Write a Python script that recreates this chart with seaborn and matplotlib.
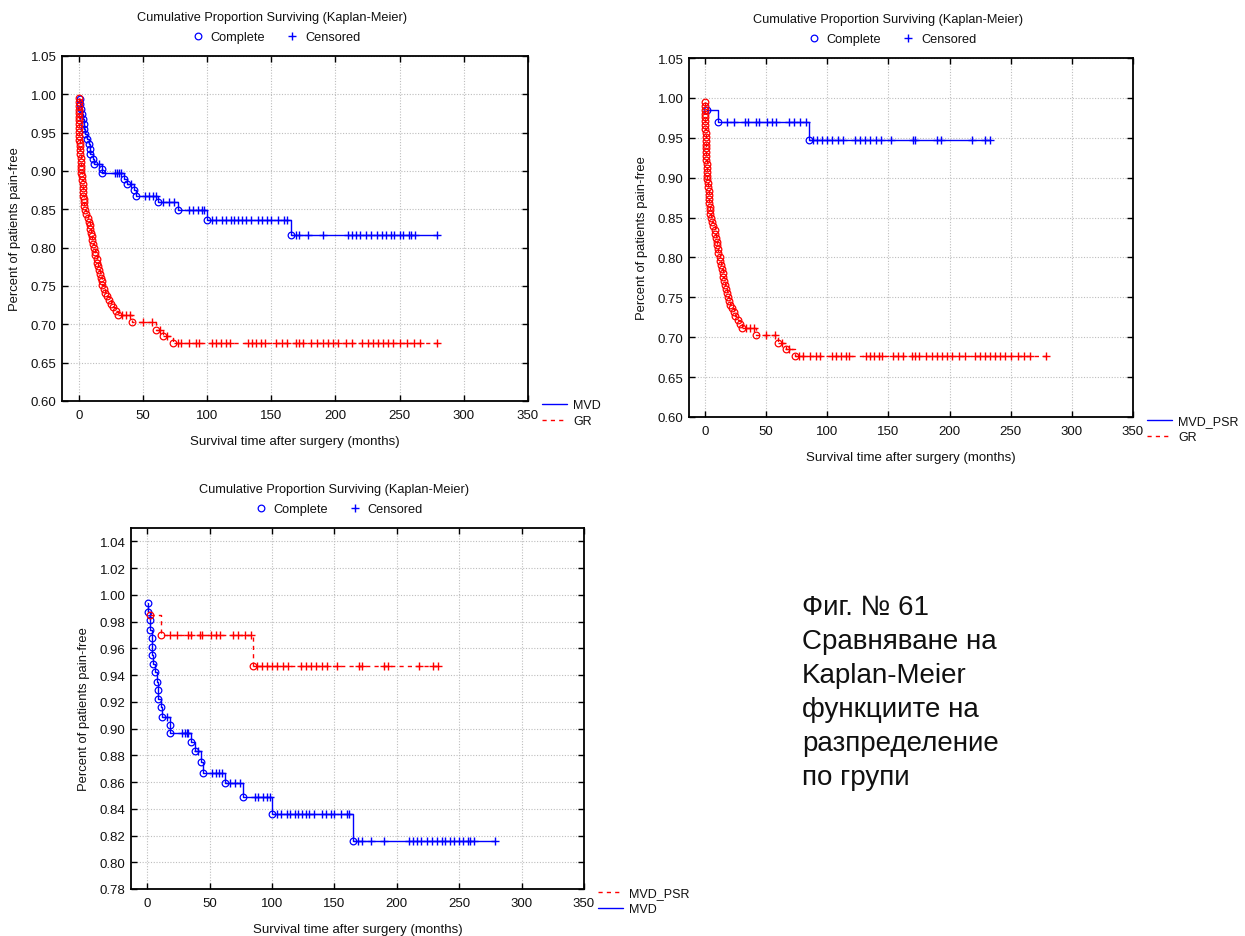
import matplotlib
matplotlib.use("Agg")
import matplotlib.pyplot as plt
from matplotlib.lines import Line2D
from matplotlib.ticker import FormatStrFormatter
import pandas as pd
import seaborn as sns

sns.set_style("white")
plt.rcParams['font.family'] = ['Liberation Sans', 'DejaVu Sans']

# ---------------- data ----------------
# MVD group: event (complete) times with survival after each event, and censored times
mvd_event_t = [1, 1, 2, 2.5, 3.5, 4, 4, 5, 6.5, 8, 8.5, 9, 11, 12, 18, 18,
               35, 38, 43, 45, 62, 77, 100, 165]
mvd_event_s = [0.994, 0.987, 0.981, 0.974, 0.968, 0.961, 0.955, 0.948, 0.942,
               0.935, 0.929, 0.922, 0.916, 0.909, 0.903, 0.897, 0.890, 0.883,
               0.875, 0.867, 0.859, 0.849, 0.836, 0.816]
mvd_cens_t = [16, 28, 30, 31.5, 33, 41, 52, 55, 57.5, 60, 66, 70, 74, 86, 89,
              93, 96, 98, 104, 107, 112, 114.5, 118.5, 121, 124, 127, 130, 134,
              140, 143, 147, 150, 155, 160, 162, 169, 172, 179, 190, 210, 213,
              216, 219, 224, 228, 232, 236, 239, 243, 246, 250, 253, 257, 259,
              262, 279]

# MVD_PSR group
psr_event_t = [2, 11, 85]
psr_event_s = [0.985, 0.970, 0.947]
psr_cens_t = [18, 24, 33, 35, 42, 44, 51, 55, 58, 69, 73, 78, 83, 88, 92, 96,
              100, 104, 109, 113, 123, 127, 131, 135, 140, 144, 152, 170, 172,
              190, 193, 218, 229, 233]

# GR group
gr_event_t = [0, 0, 0, 0, 0, 0, 0, 0, 0.5, 0.5, 0.5, 0.5, 1, 1, 1, 1, 1.5, 1.5,
              2, 2, 2, 2.5, 2.5, 3, 3, 3.5, 3.5, 4, 4, 4.5, 5, 6, 7, 8, 8.5, 9,
              9.5, 10, 10.5, 11, 12, 12.5, 13, 14, 14.5, 15, 16, 16.5, 17, 18,
              18.5, 19.5, 20.5, 22, 24, 25, 27, 29, 30.5, 41.5, 60, 66, 73.5]
gr_event_s = [0.995, 0.990, 0.985, 0.980, 0.976, 0.971, 0.966, 0.961, 0.956,
              0.951, 0.946, 0.941, 0.937, 0.932, 0.927, 0.922, 0.917, 0.912,
              0.907, 0.902, 0.898, 0.893, 0.888, 0.883, 0.878, 0.873, 0.868,
              0.863, 0.859, 0.854, 0.849, 0.844, 0.839, 0.834, 0.829, 0.824,
              0.819, 0.815, 0.810, 0.805, 0.800, 0.795, 0.790, 0.785, 0.780,
              0.776, 0.771, 0.766, 0.761, 0.756, 0.751, 0.746, 0.741, 0.737,
              0.732, 0.727, 0.722, 0.717, 0.712, 0.703, 0.693, 0.685, 0.676]
gr_cens_t = [34, 37, 40, 50, 57, 63, 69, 77, 80, 86, 91, 94, 104, 107, 111, 115,
             118, 132, 135, 138, 142, 145, 154, 158, 162, 169, 172, 175, 181,
             186, 190, 194, 198, 202, 208, 213, 221, 225, 229, 233, 237, 241,
             245, 250, 256, 261, 266, 279]

x_ticks = [0, 50, 100, 150, 200, 250, 300, 350]
y_ticks_a = [0.60, 0.65, 0.70, 0.75, 0.80, 0.85, 0.90, 0.95, 1.00, 1.05]
y_ticks_b = [0.78, 0.80, 0.82, 0.84, 0.86, 0.88, 0.90, 0.92, 0.94, 0.96,
             0.98, 1.00, 1.02, 1.04]

title_text = "Cumulative Proportion Surviving (Kaplan-Meier)"
x_label = "Survival time after surgery (months)"
y_label = "Percent of patients pain-free"
side_note = ("Фиг. № 61\nСравняване на\nKaplan-Meier\nфункциите на\n"
             "разпределение\nпо групи")

BLUE = "#0000ff"
RED = "#ff0000"
DASH = (0, (3, 3))
TXT = "#111111"

W, H = 1245, 937
fig = plt.figure(figsize=(W / 100, H / 100), dpi=100)


def km_frame(ev_t, ev_s, ce_t):
    rows = [(t, s, "Complete") for t, s in zip(ev_t, ev_s)]
    for t in ce_t:
        level = 1.0
        for et, es in zip(ev_t, ev_s):
            if et <= t:
                level = es
        rows.append((t, level, "Censored"))
    df = pd.DataFrame(rows, columns=["time", "surv", "kind"])
    return df.sort_values(["time", "surv"], ascending=[True, False],
                          kind="stable").reset_index(drop=True)


def draw_curve(ax, df, color, ls):
    sns.lineplot(data=df, x="time", y="surv", ax=ax, estimator=None,
                 sort=False, drawstyle="steps-post", color=color,
                 linewidth=1.0, linestyle=ls, legend=False)
    sns.lineplot(data=df[df.kind == "Complete"], x="time", y="surv", ax=ax,
                 estimator=None, sort=False, linestyle="none", marker="o",
                 markersize=4.8, markerfacecolor="none",
                 markeredgecolor=color, markeredgewidth=0.9, color=color,
                 legend=False)
    sns.lineplot(data=df[df.kind == "Censored"], x="time", y="surv", ax=ax,
                 estimator=None, sort=False, linestyle="none", marker="+",
                 markersize=6, markeredgecolor=color, markeredgewidth=1.0,
                 color=color, legend=False)


def make_panel(l, t, r, b, ylim, yticks, curves, legend_items):
    ax = fig.add_axes([l / W, 1 - b / H, (r - l) / W, (b - t) / H])
    for df, color, ls in curves:
        draw_curve(ax, df, color, ls)
    ax.set_xlim(-13, 350)
    ax.set_ylim(*ylim)
    ax.set_xticks(x_ticks)
    ax.set_yticks(yticks)
    ax.yaxis.set_major_formatter(FormatStrFormatter("%.2f"))
    ax.grid(True, color="#bdbdbd", linestyle=(0, (1, 1.5)), linewidth=0.8)
    ax.set_axisbelow(True)
    ax.tick_params(axis="both", direction="in", length=4, width=1,
                   left=True, right=True, bottom=True, top=True,
                   labelsize=9.5, colors="black", labelcolor=TXT)
    ax.tick_params(axis="x", pad=5.5)
    ax.tick_params(axis="y", pad=4)
    for sp in ax.spines.values():
        sp.set_visible(True)
        sp.set_color("black")
        sp.set_linewidth(1.3)
    ax.set_xlabel(x_label, fontsize=9.5, color=TXT, labelpad=10)
    ax.set_ylabel(y_label, fontsize=9.4, color=TXT, labelpad=7)

    cx = (l + r) / 2
    fig.text((cx - 23) / W, 1 - (t - 39) / H, title_text, ha="center",
             va="center", fontsize=9.2, color=TXT)
    top_handles = [
        Line2D([], [], linestyle="none", marker="o", markersize=4.8,
               markerfacecolor="none", markeredgecolor=BLUE,
               markeredgewidth=0.9),
        Line2D([], [], linestyle="none", marker="+", markersize=6,
               markeredgecolor=BLUE, markeredgewidth=1.0),
    ]
    fig.legend(top_handles, ["Complete", "Censored"], ncol=2,
               loc="center", bbox_to_anchor=((cx - 19) / W, 1 - (t - 19) / H),
               frameon=False, fontsize=9.2, handlelength=1.0,
               handletextpad=0.5, columnspacing=1.6, borderpad=0,
               labelcolor=TXT)

    side_handles = [Line2D([], [], color=c, linewidth=1.0, linestyle=s)
                    for _, c, s in legend_items]
    fig.legend(side_handles, [n for n, _, _ in legend_items],
               loc="upper left", bbox_to_anchor=((r + 14) / W, 1 - (b - 2) / H),
               frameon=False, fontsize=9, handlelength=2.0,
               handletextpad=0.5, labelspacing=0.35, borderpad=0,
               borderaxespad=0, labelcolor=TXT)
    return ax


mvd_df = km_frame(mvd_event_t, mvd_event_s, mvd_cens_t)
psr_df = km_frame(psr_event_t, psr_event_s, psr_cens_t)
gr_df = km_frame(gr_event_t, gr_event_s, gr_cens_t)

# MVD vs GR
make_panel(62, 57, 528, 402, (0.60, 1.05), y_ticks_a,
           [(mvd_df, BLUE, "-"), (gr_df, RED, DASH)],
           [("MVD", BLUE, "-"), ("GR", RED, DASH)])

# MVD_PSR vs GR
make_panel(689, 59, 1133, 418, (0.60, 1.05), y_ticks_a,
           [(psr_df, BLUE, "-"), (gr_df, RED, DASH)],
           [("MVD_PSR", BLUE, "-"), ("GR", RED, DASH)])

# MVD_PSR vs MVD
make_panel(131, 529, 584, 890, (0.78, 1.05), y_ticks_b,
           [(mvd_df, BLUE, "-"), (psr_df, RED, DASH)],
           [("MVD_PSR", RED, DASH), ("MVD", BLUE, "-")])

fig.text(802 / W, 1 - 595 / H, side_note, ha="left", va="top",
         fontsize=20, linespacing=1.4, color=TXT)

fig.savefig("out.png", dpi=100)
